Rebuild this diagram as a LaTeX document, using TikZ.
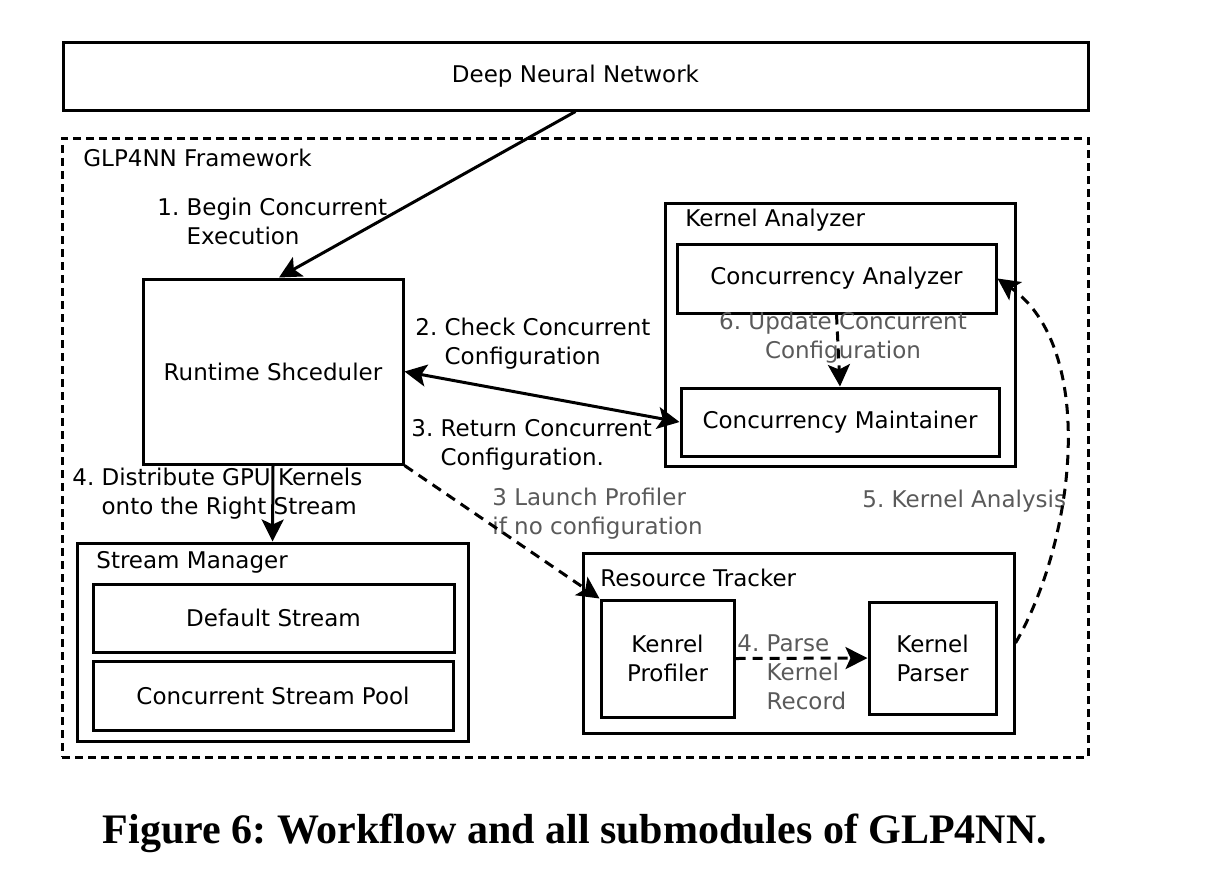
\documentclass[tikz,border=0pt]{standalone}
\usepackage{fontspec}
\setmainfont{DejaVu Sans}
\newfontfamily\captionfont{Liberation Serif}
\usepackage{tikz}
\usetikzlibrary{arrows.meta, positioning, calc}
\definecolor{labelgray}{HTML}{5A5A5A}
\frenchspacing
\tikzset{
	boxnode/.style={
			shape=rectangle,
			draw=black,
			line width=1.5pt,
			inner sep=0pt,
			align=center,
			font=\fontsize{11.5}{14.5}\selectfont
		},
	groupnode/.style={
			boxnode,
			fill=none
		},
	labeltext/.style={
			inner sep=0pt,
			align=left,
			anchor=west,
			font=\fontsize{11.5}{14.5}\selectfont
		},
	graytext/.style={
			labeltext,
			text=labelgray
		},
	flowarrow/.style={
			line width=1.5pt,
			-{Stealth[length=11pt,width=11pt,inset=2.5pt]}
		},
	dashedarrow/.style={
			flowarrow,
			dash pattern=on 5pt off 3.5pt
		}
}

\begin{document}
\begin{tikzpicture}[x=0.5pt, y=-0.5pt]
  \useasboundingbox (0,0) rectangle (1208,894);

  % outer boxes
  \node[boxnode, minimum width=512.5pt, minimum height=34pt] (dnn) at (575.5,76) {Deep Neural Network};
  \node[groupnode, dash pattern=on 4pt off 2.5pt, minimum width=513pt, minimum height=309.5pt] (frame) at (575,447.5) {};
  \node[labeltext] (framelabel) at (83,158) {GLP4NN Framework};

  \node[boxnode, minimum width=130pt, minimum height=92.5pt] (sched) at (273,371.5) {Runtime Shceduler};

  % kernel analyzer
  \node[groupnode, minimum width=175pt, minimum height=131.5pt] (kana) at (840,334.5) {};
  \node[labeltext] (kanalabel) at (685,220) {Kernel Analyzer};
  \node[boxnode, minimum width=159.5pt, minimum height=34.5pt] (cana) at (836.5,278.5) {Concurrency Analyzer};
  \node[boxnode, minimum width=159pt, minimum height=34pt] (cmnt) at (840,422) {Concurrency Maintainer};

  % stream manager
  \node[groupnode, minimum width=195.5pt, minimum height=99pt] (smgr) at (272.5,642) {};
  \node[labeltext] (smgrlabel) at (96,562) {Stream Manager};
  \node[boxnode, minimum width=180.5pt, minimum height=34pt] (dstr) at (273.5,618) {Default Stream};
  \node[boxnode, minimum width=180pt, minimum height=34.5pt] (cpool) at (273,695.5) {Concurrent Stream Pool};

  % resource tracker
  \node[groupnode, minimum width=215.5pt, minimum height=90pt] (rtrk) at (798.5,643) {};
  \node[labeltext] (rtrklabel) at (600,578) {Resource Tracker};
  \node[boxnode, minimum width=66.5pt, minimum height=58.5pt] (kprof) at (667.5,658.5) {Kenrel\\Profiler};
  \node[boxnode, minimum width=63.5pt, minimum height=56pt] (kpars) at (932.5,658) {Kernel\\Parser};

  % step labels
  \node[labeltext] (l1) at (157,221.5) {1. Begin Concurrent\\\hphantom{1. }Execution};
  \node[labeltext] (l2) at (415,344) {2. Check Concurrent\\\hphantom{2. }Configuration};
  \node[labeltext] (l3) at (411,444.5) {3. Return Concurrent\\\hphantom{3. }Configuration.};
  \node[labeltext] (l4) at (72,493.5) {4. Distribute GPU Kernels\\\hphantom{4. }onto the Right Stream};
  \node[graytext] (l3b) at (492,514) {3 Launch Profiler\\if no configuration};
  \node[graytext, align=center, anchor=center] (l6) at (843,337.5) {6. Update Concurrent\\Configuration};
  \node[graytext] (l5) at (862,501) {5. Kernel Analysis};
  \node[graytext] (l4b) at (737,672) {4. Parse\\\hphantom{4. }Kernel\\\hphantom{4. }Record};

  % connectors
  \draw[flowarrow] (dnn.south) -- ([xshift=3pt]sched.north);
  \draw[flowarrow, {Stealth[length=11pt,width=11pt,inset=2.5pt]}-{Stealth[length=11pt,width=11pt,inset=2.5pt]}] (sched.east) -- (cmnt.west);
  \draw[flowarrow] (sched.south) -- (smgr.north);
  \draw[dashedarrow] (sched.south east) -- (kprof.north west);
  \draw[dashedarrow] (kprof.east) -- (kpars.west);
  \draw[dashedarrow] (cana.south) -- (cmnt.north);
  \draw[dashedarrow] (rtrk.east) to[out=60, in=-35, looseness=0.85] (cana.east);

  % caption
  \node[font=\captionfont\bfseries\fontsize{21}{24}\selectfont, inner sep=0pt] (caption) at (575,833) {Figure 6: Workflow and all submodules of GLP4NN.};
\end{tikzpicture}
\end{document}
